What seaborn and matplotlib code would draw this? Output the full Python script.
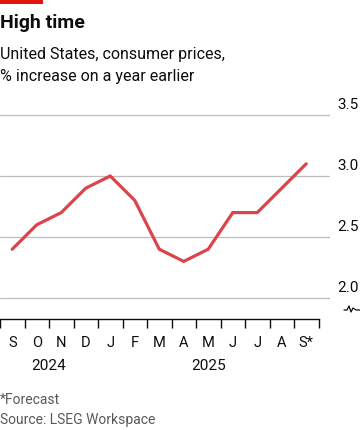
import matplotlib
matplotlib.use("Agg")
import matplotlib.pyplot as plt
import matplotlib.transforms as mtransforms
from matplotlib.lines import Line2D
from matplotlib.patches import Rectangle
import pandas as pd
import seaborn as sns

months = ["S", "O", "N", "D", "J", "F", "M", "A", "M", "J", "J", "A", "S*"]
cpi = [2.4, 2.6, 2.7, 2.9, 3.0, 2.8, 2.4, 2.3, 2.4, 2.7, 2.7, 2.9, 3.1]
yticks = [2.0, 2.5, 3.0, 3.5]
years = ["2024", "2025"]

RED = "#E3120B"
LINE = "#DB444B"
INK = "#0D0D0D"
GREY = "#595959"
GRID = "#BDBDBD"

sns.set_style("white")
plt.rcParams["font.family"] = ["Roboto", "DejaVu Sans"]

W, H = 360, 430
fig = plt.figure(figsize=(W / 100, H / 100), dpi=100)


def fy(px):
    return 1 - px / H


ax = fig.add_axes([0, fy(319), 330 / W, 219 / H])

df = pd.DataFrame({"idx": range(len(months)), "cpi": cpi})
sns.lineplot(data=df, x="idx", y="cpi", ax=ax, color=LINE, linewidth=2.3,
             solid_joinstyle="miter")

ax.set_xlim(-0.5, -0.5 + 330 / 24.5)
ax.set_ylim(2.0 - 21 / 122, 3.5 + 15 / 122)

for v in yticks:
    ax.axhline(v, color=GRID, linewidth=0.9, zorder=0)

for s in ["top", "right", "left"]:
    ax.spines[s].set_visible(False)
ax.spines["bottom"].set_bounds(-0.5, len(months) - 0.5)
ax.spines["bottom"].set_color(INK)
ax.spines["bottom"].set_linewidth(1.0)

ax.set_xticks([i - 0.5 for i in range(len(months) + 1)])
ax.set_xticklabels([])
ax.set_xticks(range(len(months)), minor=True)
ax.set_xticklabels(months, minor=True)
ax.tick_params(axis="x", which="major", bottom=True, length=6.5, width=1.0,
               color=INK, direction="out")
ax.tick_params(axis="x", which="minor", bottom=False, length=0, pad=12,
               labelsize=10.5, labelcolor=INK)
ax.set_yticks([])
ax.set_xlabel("")
ax.set_ylabel("")

# y labels above the gridlines, right aligned to figure edge
tr = mtransforms.blended_transform_factory(fig.transFigure, ax.transData)
for v in yticks:
    ax.text(359 / W, v + 0.025, f"{v:.1f}", transform=tr, ha="right",
            va="bottom", fontsize=11, color=INK, clip_on=False)

# year labels
ytr = mtransforms.blended_transform_factory(ax.transData, fig.transFigure)
ax.text(1.5, fy(366), years[0], transform=ytr, ha="center", va="center",
        fontsize=11, color=INK)
ax.text(8.0, fy(366), years[1], transform=ytr, ha="center", va="center",
        fontsize=11, color=INK)

# axis break zigzag
zx = [344, 347, 349, 351, 353, 356, 360]
zy = [310, 310, 306, 312, 308, 310, 310]
fig.add_artist(Line2D([x / W for x in zx], [fy(y) for y in zy],
                      color=INK, linewidth=0.9, transform=fig.transFigure))

# header
fig.add_artist(Rectangle((0, fy(4)), 43 / W, 4 / H, transform=fig.transFigure,
                         color=RED, linewidth=0))
fig.text(0, fy(23), "High time", fontsize=14, fontweight="bold", color=INK,
         ha="left", va="center")
fig.text(0, fy(55), "United States, consumer prices,", fontsize=11.5,
         color=INK, ha="left", va="center")
fig.text(0, fy(76), "% increase on a year earlier", fontsize=11.5,
         color=INK, ha="left", va="center")

# footer
fig.text(0, fy(400), "*Forecast", fontsize=10, color=GREY, ha="left",
         va="center")
fig.text(0, fy(420), "Source: LSEG Workspace", fontsize=10, color=GREY,
         ha="left", va="center")

fig.savefig("out.png", dpi=100, facecolor="white")
